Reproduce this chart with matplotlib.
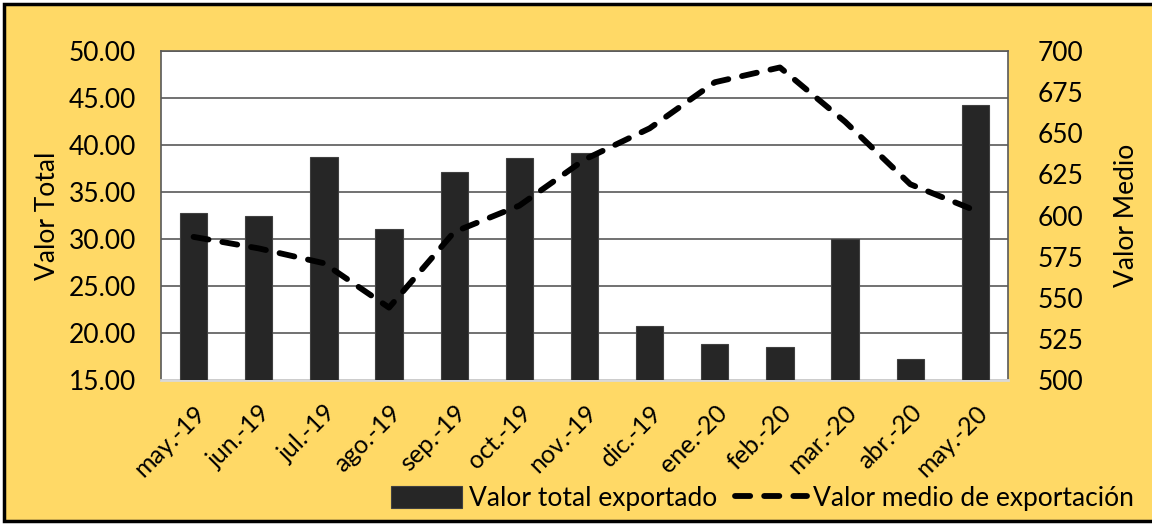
import matplotlib.pyplot as plt
import numpy as np
from matplotlib.patches import Rectangle

plt.rcParams['font.family'] = ['Lato', 'DejaVu Sans']

meses = ['may.-19', 'jun.-19', 'jul.-19', 'ago.-19', 'sep.-19', 'oct.-19', 'nov.-19',
         'dic.-19', 'ene.-20', 'feb.-20', 'mar.-20', 'abr.-20', 'may.-20']
valor_total = [32.8, 32.5, 38.7, 31.1, 37.1, 38.6, 39.1, 20.7, 18.8, 18.5, 30.0, 17.2, 44.3]
valor_medio = [587, 580, 571, 544, 590, 606, 634, 653, 681, 690, 657, 619, 603]

amarillo = '#FFD966'
barra = '#262626'

fig = plt.figure(figsize=(11.52, 5.24), dpi=100)
fig.patch.set_facecolor('white')
# marco amarillo con borde negro
fig.patches.append(Rectangle((4/1152, 3/524), 1.2, 517/524, transform=fig.transFigure,
                             facecolor=amarillo, edgecolor='black', linewidth=2.5, zorder=-5))

ax = fig.add_axes([161/1152, 1-380/524, (1008-161)/1152, (380-51)/524])
ax.set_facecolor('white')
x = np.arange(len(meses))
bars = ax.bar(x, valor_total, width=0.42, bottom=0, color=barra, edgecolor='#404040',
              linewidth=0.8, zorder=3, label='Valor total exportado')
ax.set_ylim(15, 50)
ax.set_xlim(-0.5, len(meses)-0.5)
ax.set_yticks(np.arange(15, 50.1, 5))
ax.set_yticklabels(['%.2f' % v for v in np.arange(15, 50.1, 5)])
ax.yaxis.grid(True, color='#595959', linewidth=1.2, zorder=0)
ax.set_axisbelow(True)
ax.set_xticks(x)
ax.set_xticklabels(meses, rotation=45, ha='right', rotation_mode='anchor')
ax.tick_params(axis='both', length=0, labelsize=19)
ax.tick_params(axis='y', pad=18)
ax.tick_params(axis='x', labelsize=18, pad=15)
ax.set_ylabel('Valor Total', fontsize=19, labelpad=6)
for s in ['top', 'left', 'right']:
    ax.spines[s].set_color('#595959')
    ax.spines[s].set_linewidth(1.2)
ax.spines['bottom'].set_color('#d9d9d9')
ax.spines['bottom'].set_linewidth(2)

ax2 = ax.twinx()
line, = ax2.plot(x, valor_medio, color='black', linewidth=4.2, dashes=(2.6, 2.4),
                 dash_capstyle='round', zorder=5,
                 label='Valor medio de exportación')
ax2.set_ylim(500, 700)
ax2.set_yticks(np.arange(500, 701, 25))
ax2.tick_params(axis='y', length=0, labelsize=19, pad=21)
ax2.set_ylabel('Valor Medio', fontsize=19, labelpad=22)
for s in ax2.spines.values():
    s.set_visible(False)

leg = fig.legend([bars, line], ['Valor total exportado', 'Valor medio de exportación'],
                 loc='lower right', bbox_to_anchor=(1150/1152, -3/524), ncol=2, frameon=False,
                 fontsize=19, handlelength=2.7, handleheight=0.9, handletextpad=0.25,
                 columnspacing=0.7, borderpad=0.1)

fig.savefig('out.png', dpi=100, facecolor=fig.get_facecolor())
